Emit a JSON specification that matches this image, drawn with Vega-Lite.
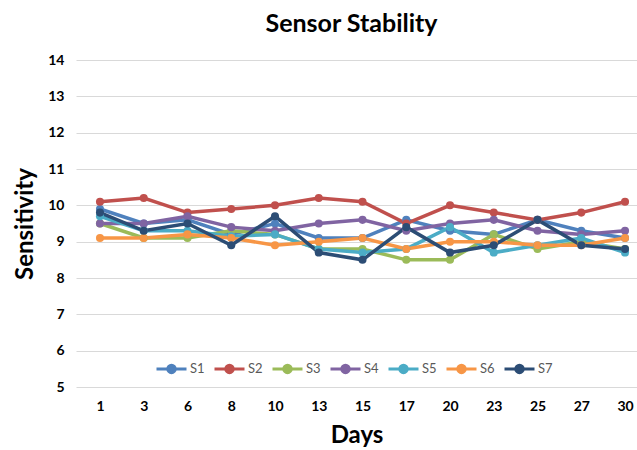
{
  "$schema": "https://vega.github.io/schema/vega-lite/v6.json",
  "autosize": {"type": "none"},
  "padding": {"left": 76, "top": 60, "right": 0, "bottom": 63},
  "width": 561,
  "height": 327,
  "title": {
    "text": "Sensor Stability",
    "font": "Lato",
    "fontSize": 25,
    "fontWeight": "bold",
    "color": "#000000",
    "anchor": "middle",
    "frame": "group",
    "dx": -5,
    "offset": 16
  },
  "data": {
    "values": [
      {"day": 1, "sensor": "S1", "value": 9.9},
      {"day": 3, "sensor": "S1", "value": 9.5},
      {"day": 6, "sensor": "S1", "value": 9.6},
      {"day": 8, "sensor": "S1", "value": 9.2},
      {"day": 10, "sensor": "S1", "value": 9.5},
      {"day": 13, "sensor": "S1", "value": 9.1},
      {"day": 15, "sensor": "S1", "value": 9.1},
      {"day": 17, "sensor": "S1", "value": 9.6},
      {"day": 20, "sensor": "S1", "value": 9.3},
      {"day": 23, "sensor": "S1", "value": 9.2},
      {"day": 25, "sensor": "S1", "value": 9.6},
      {"day": 27, "sensor": "S1", "value": 9.3},
      {"day": 30, "sensor": "S1", "value": 9.1},
      {"day": 1, "sensor": "S2", "value": 10.1},
      {"day": 3, "sensor": "S2", "value": 10.2},
      {"day": 6, "sensor": "S2", "value": 9.8},
      {"day": 8, "sensor": "S2", "value": 9.9},
      {"day": 10, "sensor": "S2", "value": 10.0},
      {"day": 13, "sensor": "S2", "value": 10.2},
      {"day": 15, "sensor": "S2", "value": 10.1},
      {"day": 17, "sensor": "S2", "value": 9.5},
      {"day": 20, "sensor": "S2", "value": 10.0},
      {"day": 23, "sensor": "S2", "value": 9.8},
      {"day": 25, "sensor": "S2", "value": 9.6},
      {"day": 27, "sensor": "S2", "value": 9.8},
      {"day": 30, "sensor": "S2", "value": 10.1},
      {"day": 1, "sensor": "S3", "value": 9.5},
      {"day": 3, "sensor": "S3", "value": 9.1},
      {"day": 6, "sensor": "S3", "value": 9.1},
      {"day": 8, "sensor": "S3", "value": 9.3},
      {"day": 10, "sensor": "S3", "value": 9.2},
      {"day": 13, "sensor": "S3", "value": 8.8},
      {"day": 15, "sensor": "S3", "value": 8.8},
      {"day": 17, "sensor": "S3", "value": 8.5},
      {"day": 20, "sensor": "S3", "value": 8.5},
      {"day": 23, "sensor": "S3", "value": 9.2},
      {"day": 25, "sensor": "S3", "value": 8.8},
      {"day": 27, "sensor": "S3", "value": 9.0},
      {"day": 30, "sensor": "S3", "value": 8.8},
      {"day": 1, "sensor": "S4", "value": 9.5},
      {"day": 3, "sensor": "S4", "value": 9.5},
      {"day": 6, "sensor": "S4", "value": 9.7},
      {"day": 8, "sensor": "S4", "value": 9.4},
      {"day": 10, "sensor": "S4", "value": 9.3},
      {"day": 13, "sensor": "S4", "value": 9.5},
      {"day": 15, "sensor": "S4", "value": 9.6},
      {"day": 17, "sensor": "S4", "value": 9.3},
      {"day": 20, "sensor": "S4", "value": 9.5},
      {"day": 23, "sensor": "S4", "value": 9.6},
      {"day": 25, "sensor": "S4", "value": 9.3},
      {"day": 27, "sensor": "S4", "value": 9.2},
      {"day": 30, "sensor": "S4", "value": 9.3},
      {"day": 1, "sensor": "S5", "value": 9.7},
      {"day": 3, "sensor": "S5", "value": 9.3},
      {"day": 6, "sensor": "S5", "value": 9.3},
      {"day": 8, "sensor": "S5", "value": 9.15},
      {"day": 10, "sensor": "S5", "value": 9.2},
      {"day": 13, "sensor": "S5", "value": 8.8},
      {"day": 15, "sensor": "S5", "value": 8.7},
      {"day": 17, "sensor": "S5", "value": 8.8},
      {"day": 20, "sensor": "S5", "value": 9.4},
      {"day": 23, "sensor": "S5", "value": 8.7},
      {"day": 25, "sensor": "S5", "value": 8.9},
      {"day": 27, "sensor": "S5", "value": 9.1},
      {"day": 30, "sensor": "S5", "value": 8.7},
      {"day": 1, "sensor": "S6", "value": 9.1},
      {"day": 3, "sensor": "S6", "value": 9.1},
      {"day": 6, "sensor": "S6", "value": 9.2},
      {"day": 8, "sensor": "S6", "value": 9.1},
      {"day": 10, "sensor": "S6", "value": 8.9},
      {"day": 13, "sensor": "S6", "value": 9.0},
      {"day": 15, "sensor": "S6", "value": 9.1},
      {"day": 17, "sensor": "S6", "value": 8.8},
      {"day": 20, "sensor": "S6", "value": 9.0},
      {"day": 23, "sensor": "S6", "value": 9.0},
      {"day": 25, "sensor": "S6", "value": 8.9},
      {"day": 27, "sensor": "S6", "value": 8.9},
      {"day": 30, "sensor": "S6", "value": 9.1},
      {"day": 1, "sensor": "S7", "value": 9.8},
      {"day": 3, "sensor": "S7", "value": 9.3},
      {"day": 6, "sensor": "S7", "value": 9.5},
      {"day": 8, "sensor": "S7", "value": 8.9},
      {"day": 10, "sensor": "S7", "value": 9.7},
      {"day": 13, "sensor": "S7", "value": 8.7},
      {"day": 15, "sensor": "S7", "value": 8.5},
      {"day": 17, "sensor": "S7", "value": 9.4},
      {"day": 20, "sensor": "S7", "value": 8.7},
      {"day": 23, "sensor": "S7", "value": 8.9},
      {"day": 25, "sensor": "S7", "value": 9.6},
      {"day": 27, "sensor": "S7", "value": 8.9},
      {"day": 30, "sensor": "S7", "value": 8.8}
    ]
  },
  "mark": {
    "type": "line",
    "strokeWidth": 3.5,
    "point": {"filled": true, "size": 65}
  },
  "encoding": {
    "x": {
      "field": "day",
      "type": "ordinal",
      "sort": "ascending",
      "scale": {"type": "point", "padding": 0.411, "align": 0.667},
      "axis": {
        "title": "Days",
        "labelAngle": 0,
        "labelFont": "Lato",
        "labelFontSize": 14,
        "labelFontWeight": "bold",
        "labelColor": "#000000",
        "labelPadding": 12,
        "ticks": false,
        "domain": false,
        "grid": false,
        "titleFont": "Lato",
        "titleFontSize": 24,
        "titleFontWeight": "bold",
        "titleColor": "#000000",
        "titlePadding": 10
      }
    },
    "y": {
      "field": "value",
      "type": "quantitative",
      "scale": {"domain": [5, 14], "nice": false, "zero": false},
      "axis": {
        "title": "Sensitivity",
        "values": [5, 6, 7, 8, 9, 10, 11, 12, 13, 14],
        "labelFont": "Lato",
        "labelFontSize": 14,
        "labelFontWeight": "bold",
        "labelColor": "#000000",
        "labelPadding": 12,
        "ticks": false,
        "domain": false,
        "grid": true,
        "gridColor": "#D9D9D9",
        "gridWidth": 1.2,
        "titleFont": "Lato",
        "titleFontSize": 24,
        "titleFontWeight": "bold",
        "titleColor": "#000000",
        "titlePadding": 10
      }
    },
    "color": {
      "field": "sensor",
      "type": "nominal",
      "scale": {
        "domain": ["S1", "S2", "S3", "S4", "S5", "S6", "S7"],
        "range": ["#4F81BD", "#C0504D", "#9BBB59", "#8064A2", "#4BACC6", "#F79646", "#2C4D75"]
      },
      "legend": {
        "title": null,
        "orient": "none",
        "direction": "horizontal",
        "legendX": 79,
        "legendY": 292,
        "symbolType": "M-1,0L-0.25,0M0.25,0L1,0M-0.25,0A0.25,0.25 0 1 1 0.25,0A0.25,0.25 0 1 1 -0.25,0Z",
        "symbolSize": 900,
        "symbolStrokeWidth": 3,
        "labelFont": "Lato",
        "labelFontSize": 13,
        "labelColor": "#595959",
        "labelOffset": 2,
        "columnPadding": 3
      }
    }
  },
  "config": {
    "view": {"stroke": null},
    "background": "#ffffff"
  }
}
